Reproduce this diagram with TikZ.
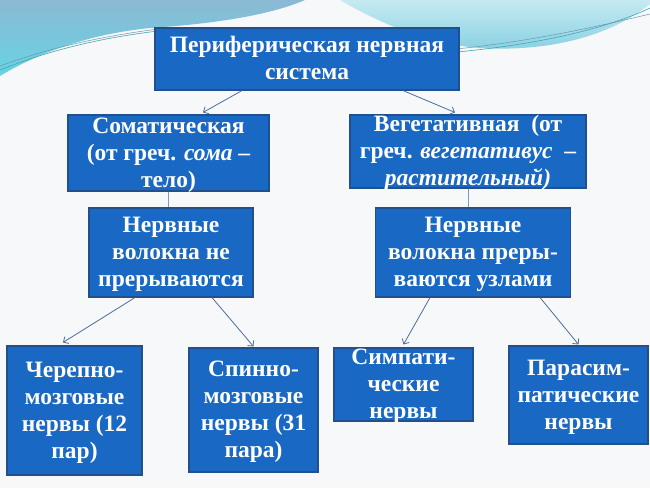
\documentclass[tikz,border=0pt]{standalone}
\usepackage{fontspec}
\setmainfont{Liberation Serif}
\usetikzlibrary{arrows.meta,calc}
\definecolor{bgc}{HTML}{F6F8F9}
\definecolor{boxfill}{HTML}{1868C4}
\definecolor{boxline}{HTML}{22508C}
\definecolor{arrc}{HTML}{4E6E9C}
\definecolor{wavetop}{HTML}{8BB9D4}
\definecolor{wavebot}{HTML}{66D4E3}
\definecolor{rwtop}{HTML}{C6EAF1}
\definecolor{rwbot}{HTML}{86D0E2}
\definecolor{thinl}{HTML}{3FA6B8}
\newcommand\boxtxt[1]{\raisebox{-5pt}[\dimexpr(\height-\depth)/2\relax][\dimexpr(\depth-\height)/2\relax]{\begin{tabular}{@{}c@{}}#1\end{tabular}}}
\tikzset{
  box/.style={draw=boxline, line width=1.1pt, fill=boxfill, text=white,
    inner sep=0pt, font=\fontsize{23.5}{27}\selectfont\bfseries},
  arr/.style={draw=arrc, line width=0.8pt, -{Straight Barb[length=4pt,width=8pt]}},
  conn/.style={draw=arrc!70, line width=0.8pt}
}
\begin{document}
\begin{tikzpicture}[x=1pt,y=-1pt]
\fill[bgc] (0,0) rectangle (650,488);
\useasboundingbox (0,0) rectangle (650,488);
% waves
\shade[top color=wavetop, bottom color=wavebot]
  (0,0) -- (305,0) .. controls (268,16) and (210,24) .. (150,28)
  .. controls (90,34) and (40,52) .. (0,76) -- cycle;
\shade[top color=rwtop, bottom color=rwbot]
  (340,0) .. controls (385,26) and (430,44) .. (480,48)
  .. controls (550,52) and (610,36) .. (650,4) -- (650,0) -- cycle;
\draw[thinl, line width=0.6pt] (0,70) .. controls (50,50) and (100,38) .. (158,31);
\draw[wavetop!80!black, line width=0.5pt] (0,66) .. controls (55,46) and (105,36) .. (158,29);
\draw[thinl, line width=0.6pt] (445,53) .. controls (520,47) and (600,32) .. (650,8);
\draw[wavetop!80!black, line width=0.5pt] (445,50) .. controls (525,43) and (600,26) .. (650,14);
% nodes
\node[box, minimum width=304pt, minimum height=62pt] (top) at (307,59)
  {\boxtxt{Периферическая нервная\\система}};
\node[box, minimum width=201pt, minimum height=76pt] (som) at (168.5,153)
  {\boxtxt{Соматическая\\(от греч. \textit{сома} –\\тело)}};
\node[box, minimum width=236pt, minimum height=73pt] (veg) at (468,151.5)
  {\boxtxt{Вегетативная\ \ (от\\греч. \textit{вегетативус}\ \ –\\\textit{растительный)}}};
\node[box, minimum width=164pt, minimum height=89pt] (nfl) at (171,252.5)
  {\boxtxt{Нервные\\волокна не\\прерываются}};
\node[box, minimum width=195pt, minimum height=89pt] (nfr) at (473,252.5)
  {\boxtxt{Нервные\\волокна преры-\\ваются узлами}};
\node[box, minimum width=135pt, minimum height=129pt] (c1) at (74.5,410.5)
  {\boxtxt{Черепно-\\мозговые\\нервы (12\\пар)}};
\node[box, minimum width=129pt, minimum height=124pt] (c2) at (253.5,410)
  {\boxtxt{Спинно-\\мозговые\\нервы (31\\пара)}};
\node[box, minimum width=139pt, minimum height=73pt] (c3) at (403.5,384.5)
  {\boxtxt{Симпати-\\ческие\\нервы}};
\node[box, minimum width=139pt, minimum height=98pt] (c4) at (578.5,395)
  {\boxtxt{Парасим-\\патические\\нервы}};
% connectors
\draw[arr] ([xshift=-65pt]top.south) -- ([xshift=34.5pt,yshift=2pt]som.north);
\draw[arr] ([xshift=96pt]top.south) -- ([xshift=-13pt,yshift=2pt]veg.north);
\draw[conn] (som.south) -- (som.south |- nfl.north);
\draw[conn] (veg.south) -- (veg.south |- nfr.north);
\draw[arr] ([xshift=-36pt]nfl.south) -- ([xshift=-11.5pt,yshift=3pt]c1.north);
\draw[arr] ([xshift=41pt]nfl.south) -- ([yshift=1pt]c2.north);
\draw[arr] ([xshift=-43pt]nfr.south) -- ([yshift=3pt]c3.north);
\draw[arr] ([xshift=67pt]nfr.south) -- ([yshift=1pt]c4.north);
\end{tikzpicture}
\end{document}
